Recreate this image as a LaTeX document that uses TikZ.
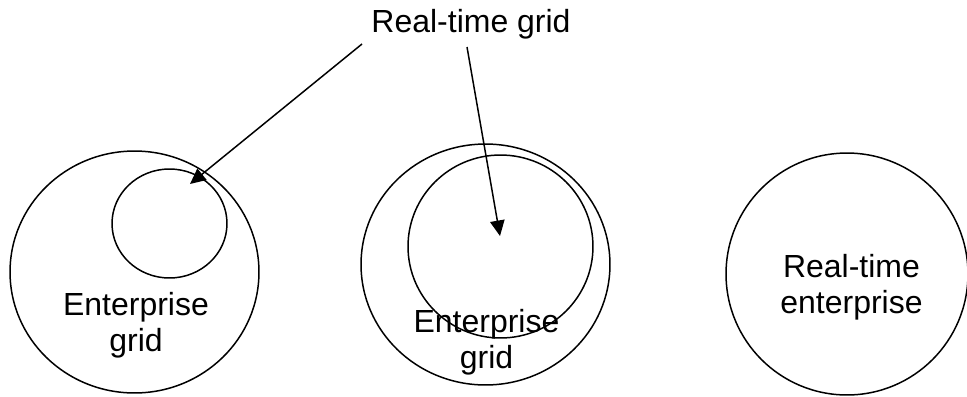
\documentclass[tikz,border=0pt]{standalone}
\usepackage{fontspec}
\setmainfont{Liberation Sans}
\usetikzlibrary{arrows.meta, shapes.geometric}

\begin{document}
\begin{tikzpicture}[
  x=0.02cm, y=-0.02cm,
  ring/.style={draw, ellipse, inner sep=0pt, line width=0.85pt},
  lbl/.style={align=center, font=\fontsize{18.2}{20.2}\selectfont, inner sep=0pt},
  arr/.style={-{Triangle[length=0.31cm, width=0.29cm]}, line width=0.85pt}
]
  \useasboundingbox (0,0) rectangle (967,396);

  % left: small grid inside the enterprise
  \node[ring, minimum width=4.98cm, minimum height=4.84cm] (leftout) at (134.5,272) {};
  \node[ring, minimum width=2.3cm, minimum height=2.18cm] (leftin) at (169.5,223.5) {};
  \node[lbl] (lefttxt) at (136,325) {Enterprise\\grid};

  % middle: grid almost the whole enterprise
  \node[ring, minimum width=4.98cm, minimum height=4.82cm] (midout) at (485.5,264.5) {};
  \node[ring, minimum width=3.7cm, minimum height=3.66cm] (midin) at (500.5,246.5) {};
  \node[lbl] (midtxt) at (486.5,342) {Enterprise\\grid};

  % right
  \node[ring, minimum width=4.84cm, minimum height=4.84cm] (rightout) at (847,274) {};
  \node[lbl] (righttxt) at (851.5,287) {Real-time\\enterprise};

  % title and pointers
  \node[lbl, anchor=base] (title) at (471,32) {Real-time grid};
  \coordinate (from1) at (362,44);
  \coordinate (to1) at (190,184);
  \coordinate (from2) at (467,47);
  \coordinate (to2) at (500,236);

  \draw[arr] (from1) -- (to1);
  \draw[arr] (from2) -- (to2);
\end{tikzpicture}
\end{document}
